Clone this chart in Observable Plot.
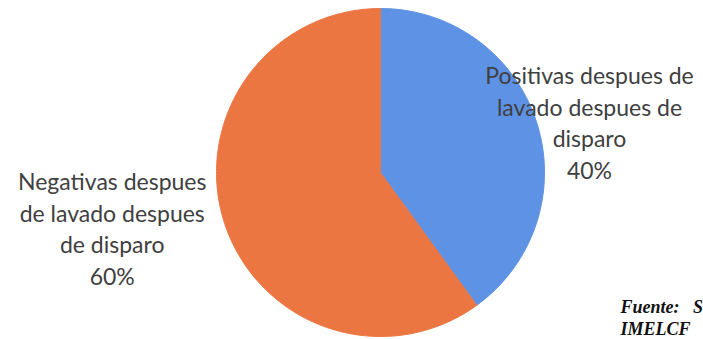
<!DOCTYPE html>
<html><head><meta charset="utf-8">
<script src="https://cdn.jsdelivr.net/npm/d3@7"></script>
<script src="https://cdn.jsdelivr.net/npm/@observablehq/plot@0.6"></script>
<style>body{margin:0;background:#fff;overflow:hidden}</style>
</head><body><div id="chart"></div>
<script>
const categories = ["Positivas", "Negativas"];
const labelTexts = ["Positivas despues de\nlavado despues de\ndisparo", "Negativas despues\nde lavado despues\nde disparo"];
const values = [40, 60];
const percentLabels = ["40%", "60%"];
const colors = ["#5e92e4", "#ec7642"];
const sourceNote = "Fuente:   S\nIMELCF";

const arcs = d3.pie().sort(null).value(d => d)(values);
const pts = [];
arcs.forEach((a, i) => {
  const n = 200;
  pts.push({cat: categories[i], x: 0, y: 0});
  for (let k = 0; k <= n; k++) {
    const t = a.startAngle + (a.endAngle - a.startAngle) * k / n;
    pts.push({cat: categories[i], x: Math.sin(t), y: Math.cos(t)});
  }
  pts.push({cat: categories[i], x: 0, y: 0});
});

const labelLayout = [{r: 1.34, dy: 17}, {r: 1.72, dy: -32}];
const labels = arcs.map((a, i) => {
  const m = (a.startAngle + a.endAngle) / 2;
  return {x: Math.sin(m) * labelLayout[i].r, y: Math.cos(m) * labelLayout[i].r, dy: labelLayout[i].dy,
          text: labelTexts[i] + "\n" + percentLabels[i]};
});

const chart = Plot.plot({
  width: 703, height: 339,
  marginLeft: 216, marginRight: 159, marginTop: 8, marginBottom: 3,
  x: {domain: [-1, 1], axis: null},
  y: {domain: [-1, 1], axis: null},
  color: {domain: categories, range: colors},
  style: {background: "#fff", overflow: "hidden"},
  marks: [
    Plot.line(pts, {x: "x", y: "y", z: "cat", fill: "cat", stroke: "none", curve: "linear"}),
    Plot.line(pts, {x: "x", y: "y", z: "cat", stroke: "cat", strokeWidth: 1, fill: "none"}),
    ...labels.map(l => Plot.text([l], {x: "x", y: "y", text: "text", dy: l.dy, fontFamily: "Lato", fontSize: 23,
      fill: "#404040", lineHeight: 1.37, textAnchor: "middle", lineAnchor: "middle"})),
    Plot.text([sourceNote], {text: d => d, frameAnchor: "bottom-right", dx: 76, dy: -2, textAnchor: "start",
      lineAnchor: "bottom", fontFamily: "Liberation Serif", fontWeight: "bold", fontStyle: "italic",
      fontSize: 18, fill: "#111", lineHeight: 1.22})
  ]
});
document.getElementById("chart").append(chart);
</script></body></html>
